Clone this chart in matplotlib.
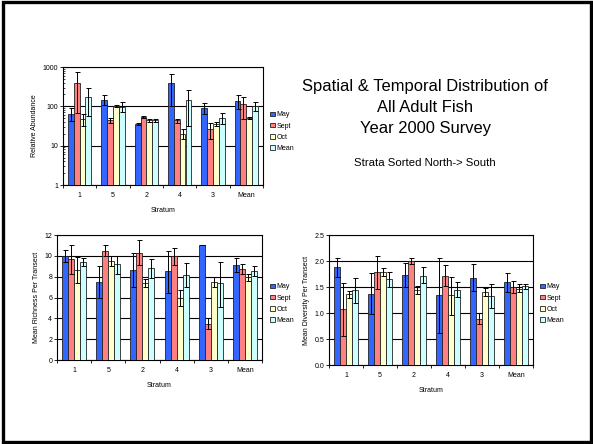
import numpy as np
import matplotlib
matplotlib.use("Agg")
import matplotlib.pyplot as plt
from matplotlib.patches import Rectangle

plt.rcParams['font.family'] = ['Liberation Sans', 'DejaVu Sans']

# ------------------------------------------------------------
# data
# ------------------------------------------------------------
strata = ["1", "5", "2", "4", "3", "Mean"]
seasons = ["May", "Sept", "Oct", "Mean"]
colors = ["#3366ff", "#ff8080", "#ffffcc", "#ccffff"]

# relative abundance (bar, low, high) per season
abund = {
    "May":  [65, 145, 35, 385, 89, 139],
    "Sept": [400, 45, 55, 44, 26, 112],
    "Oct":  [48, 100, 44, 20, 36, 50],
    "Mean": [169, 98, 44, 145, 50, 102],
}
abund_lo = {
    "May":  [42, 108, 33, 104, 63, 84],
    "Sept": [69, 37, 52, 38, 15, 47],
    "Oct":  [32, 95, 41, 15, 32, 47],
    "Mean": [58, 72, 39, 32, 36, 75],
}
abund_hi = {
    "May":  [92, 194, 37, 652, 119, 197],
    "Sept": [731, 52, 58, 49, 37, 176],
    "Oct":  [63, 105, 47, 27, 41, 53],
    "Mean": [287, 128, 49, 260, 69, 129],
}

# mean richness per transect
rich = {
    "May":  [10.0, 7.5, 8.65, 8.5, 11.0, 9.13],
    "Sept": [9.7, 10.5, 10.3, 10.0, 3.5, 8.75],
    "Oct":  [8.65, 9.5, 7.37, 6.0, 7.5, 7.95],
    "Mean": [9.45, 9.17, 8.8, 8.2, 7.35, 8.56],
}
rich_lo = {
    "May":  [9.4, 6.0, 7.0, 6.4, 11.0, 8.43],
    "Sept": [8.3, 10.0, 9.1, 9.1, 2.95, 8.27],
    "Oct":  [7.4, 9.0, 7.0, 5.22, 7.0, 7.56],
    "Mean": [9.05, 8.24, 7.85, 7.0, 5.13, 8.08],
}
rich_hi = {
    "May":  [10.6, 9.0, 10.25, 10.5, 11.0, 9.78],
    "Sept": [11.0, 11.0, 11.55, 10.8, 4.0, 9.23],
    "Oct":  [9.9, 10.0, 7.75, 6.75, 8.0, 8.27],
    "Mean": [9.8, 10.0, 9.65, 9.35, 9.45, 9.04],
}

# mean diversity per transect
div = {
    "May":  [1.88, 1.37, 1.73, 1.34, 1.68, 1.59],
    "Sept": [1.07, 1.79, 2.0, 1.72, 0.88, 1.50],
    "Oct":  [1.36, 1.79, 1.44, 1.34, 1.41, 1.47],
    "Mean": [1.44, 1.65, 1.72, 1.45, 1.32, 1.52],
}
div_lo = {
    "May":  [1.69, 0.98, 1.50, 0.62, 1.42, 1.41],
    "Sept": [0.56, 1.47, 1.95, 1.52, 0.79, 1.38],
    "Oct":  [1.28, 1.71, 1.36, 0.97, 1.33, 1.40],
    "Mean": [1.19, 1.50, 1.57, 1.30, 1.09, 1.47],
}
div_hi = {
    "May":  [2.06, 1.76, 1.96, 2.06, 1.94, 1.77],
    "Sept": [1.58, 2.10, 2.05, 1.92, 1.00, 1.61],
    "Oct":  [1.42, 1.86, 1.52, 1.69, 1.48, 1.55],
    "Mean": [1.67, 1.79, 1.88, 1.59, 1.56, 1.56],
}

W, H = 593, 444
fig = plt.figure(figsize=(W / 100, H / 100), dpi=100)


def box(l, t, r, b):
    return [l / W, 1 - b / H, (r - l) / W, (b - t) / H]


def bar_panel(ax, vals, lo, hi, ylabel, legend_xy):
    x = np.arange(len(strata))
    width = 0.175
    for i, s in enumerate(seasons):
        v = np.array(vals[s])
        err = [v - np.array(lo[s]), np.array(hi[s]) - v]
        ax.bar(x + (i - 1.5) * width, v, width, color=colors[i], label=s,
               edgecolor="#222222", linewidth=0.6, zorder=3,
               yerr=err, error_kw=dict(ecolor="black", elinewidth=0.7,
                                       capsize=1.8, capthick=0.7, zorder=4))
    ax.set_xlim(-0.5, len(strata) - 0.5)
    ax.set_xticks(x)
    ax.set_xticklabels(strata)
    ax.set_xticks(np.arange(len(strata) + 1) - 0.5, minor=True)
    ax.tick_params(axis="x", which="major", length=0, labelsize=5, pad=5)
    ax.tick_params(axis="x", which="minor", length=2.5, width=0.6)
    ax.tick_params(axis="y", which="major", length=2.5, width=0.6, labelsize=5, pad=1)
    ax.yaxis.grid(True, which="major", color="black", linewidth=0.8, zorder=0)
    ax.set_axisbelow(True)
    for sp in ax.spines.values():
        sp.set_linewidth(0.8)
    ax.set_xlabel("Stratum", fontsize=5, labelpad=6)
    ax.set_ylabel(ylabel, fontsize=5, labelpad=3)
    fig.legend(*ax.get_legend_handles_labels(), loc="upper left",
               bbox_to_anchor=(legend_xy[0] / W, 1 - legend_xy[1] / H),
               frameon=False, fontsize=5, handlelength=0.6, handleheight=0.6,
               handletextpad=0.3, labelspacing=0.6, borderpad=0)


# ---------------- abundance (log scale) ----------------
ax1 = fig.add_axes(box(63, 67, 263, 185))
ax1.set_yscale("log")
bar_panel(ax1, abund, abund_lo, abund_hi, "Relative Abundance", (267, 108))
ax1.set_ylim(1, 1000)
ax1.set_yticks([1, 10, 100, 1000])
ax1.set_yticklabels(["1", "10", "100", "1000"])
ax1.tick_params(axis="y", which="minor", length=1.5, width=0.5, direction="in")

# ---------------- richness ----------------
ax2 = fig.add_axes(box(57, 235, 262, 360))
bar_panel(ax2, rich, rich_lo, rich_hi, "Mean Richness Per Transect", (267, 280))
ax2.set_ylim(0, 12)
ax2.set_yticks(range(0, 13, 2))

# ---------------- diversity ----------------
ax3 = fig.add_axes(box(329, 235, 533, 365))
bar_panel(ax3, div, div_lo, div_hi, "Mean Diversity Per Transect", (537, 280))
ax3.set_ylim(0, 2.5)
ax3.set_yticks(np.arange(0, 2.51, 0.5))
ax3.set_yticklabels([f"{t:.1f}" for t in np.arange(0, 2.51, 0.5)])

# ---------------- titles ----------------
fig.text(425 / W, 1 - 87 / H, "Spatial & Temporal Distribution of", fontsize=11.9,
         ha="center", va="center")
fig.text(425 / W, 1 - 108 / H, "All Adult Fish", fontsize=11.9, ha="center", va="center")
fig.text(425 / W, 1 - 128 / H, "Year 2000 Survey", fontsize=11.9, ha="center", va="center")
fig.text(425 / W, 1 - 163 / H, "Strata Sorted North-> South", fontsize=8.2,
         ha="center", va="center")

# slide border
fig.patches.append(Rectangle((2.5 / W, 2.5 / H), (W - 5) / W, (H - 5) / H,
                             transform=fig.transFigure, fill=False,
                             edgecolor="black", linewidth=2.4))

fig.savefig("out.png", dpi=100)
